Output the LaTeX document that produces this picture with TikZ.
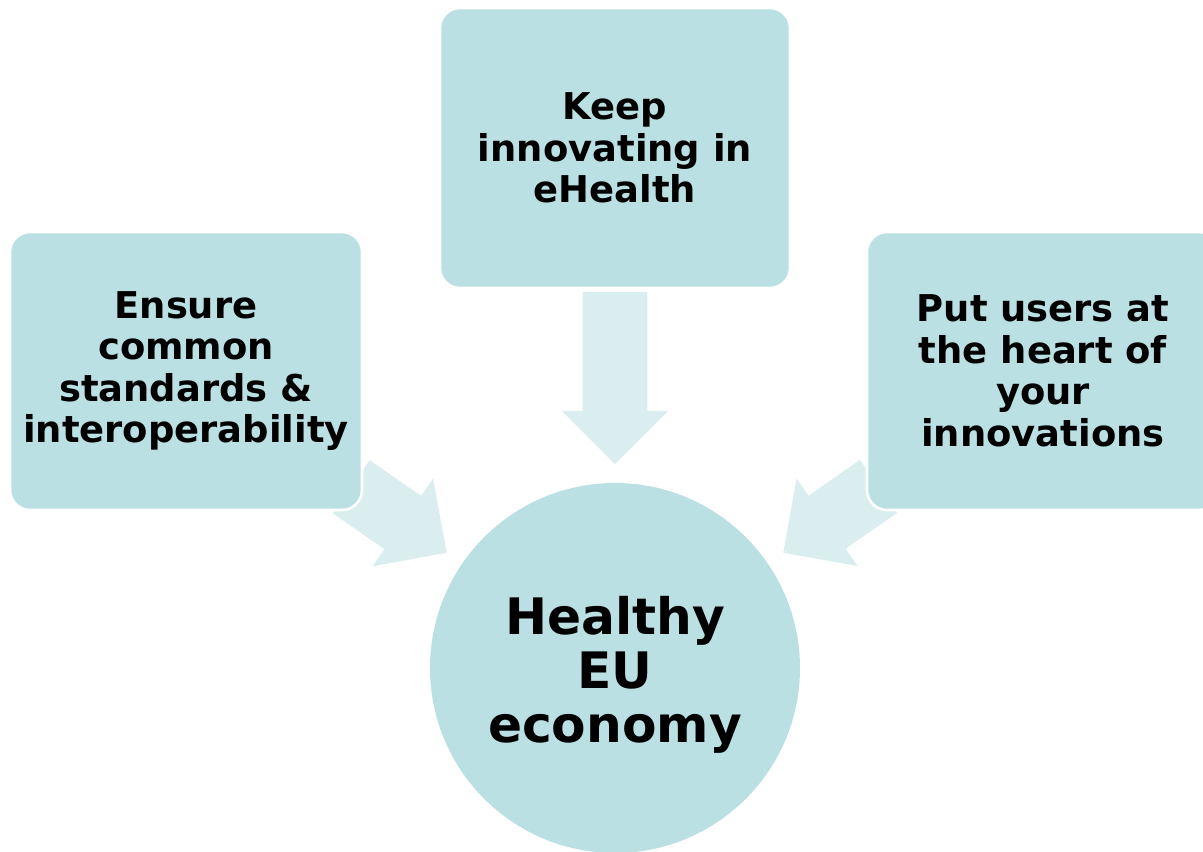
\documentclass[tikz,border=0pt]{standalone}
\usepackage{fontspec}
\setmainfont{DejaVu Sans}
\usetikzlibrary{calc}
\usetikzlibrary{positioning}
\usetikzlibrary{shapes.arrows}
\usetikzlibrary{backgrounds}
\definecolor{ehblue}{RGB}{187,224,227}
\definecolor{ehpale}{RGB}{218,237,239}
\tikzset{
    goal/.style={draw=white, line width=1.5pt, fill=ehblue, rounded corners=0.4cm,
        minimum width=7.04cm, minimum height=5.56cm, align=center,
        font=\bfseries\fontsize{21}{23.6}\selectfont},
    hub/.style={circle, fill=ehblue, minimum size=7.4cm, inner sep=0pt, align=center,
        text height=91pt, font=\bfseries\fontsize{28.6}{30.6}\selectfont},
    push/.style={single arrow, fill=ehpale, draw=none, inner xsep=0pt, inner ysep=0.64cm,
        single arrow head extend=0.42cm, sloped, allow upside down, anchor=tip, pos=1},
}
\begin{document}
\begin{tikzpicture}
    \useasboundingbox (0,0) rectangle (24.06,17.04);

    \node[hub] (healthy) at (12.3,3.68) {Healthy\\EU\\economy};
    \node[goal, minimum width=7.0cm, minimum height=5.6cm] (keep) at (12.3,14.08) {Keep\\innovating in\\eHealth};
    \node[goal] (ensure) at (3.72,9.62) {Ensure\\common\\standards \&\\interoperability};
    \node[goal] (users) at (20.86,9.62) {Put users at\\the heart of\\your\\innovations};

    % block arrows sit behind the boxes
    \begin{scope}[on background layer]
        \path (keep.south) -- ($(healthy.north)+(0,0.36)$) node[push, minimum height=3.44cm] {};
        \path ($(ensure.south east)+(-0.2,0.46)$) -- ($(healthy.center)+(145.6:4.07)$) node[push, minimum height=2.32cm] {};
        \path ($(users.south west)+(0.2,0.46)$) -- ($(healthy.center)+(34.4:4.07)$) node[push, minimum height=2.32cm] {};
    \end{scope}
\end{tikzpicture}
\end{document}
